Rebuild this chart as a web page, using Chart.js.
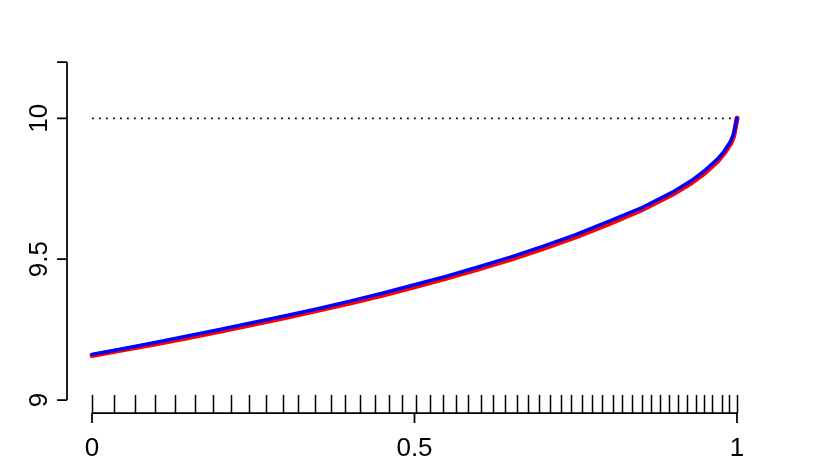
<!DOCTYPE html>
<html>
<head>
<meta charset="utf-8">
<script src="https://cdn.jsdelivr.net/npm/chart.js@4/dist/chart.umd.min.js"></script>
<style>
  html, body { margin: 0; padding: 0; background: #fff; }
  canvas { display: block; }
</style>
</head>
<body>
<canvas id="graph" width="830" height="464"></canvas>
<script>
var xs = [0, 0.05, 0.1, 0.15, 0.2, 0.25, 0.3, 0.35, 0.4, 0.45, 0.5, 0.55, 0.6, 0.65,
          0.7, 0.75, 0.8, 0.85, 0.9, 0.93, 0.95, 0.97, 0.98, 0.99, 0.995, 1];
var blueVals = [9.162, 9.183, 9.205, 9.228, 9.251, 9.275, 9.299, 9.324, 9.351, 9.379,
                9.409, 9.440, 9.473, 9.508, 9.546, 9.587, 9.633, 9.680, 9.738, 9.780,
                9.815, 9.856, 9.883, 9.918, 9.946, 10.0];
var redVals = [9.158, 9.179, 9.200, 9.222, 9.245, 9.269, 9.293, 9.318, 9.344, 9.372,
               9.402, 9.433, 9.466, 9.500, 9.538, 9.579, 9.624, 9.673, 9.730, 9.772,
               9.806, 9.848, 9.876, 9.910, 9.938, 10.0];

// rug ticks along the x axis
var rugX = [0, 0.034, 0.067, 0.098, 0.129, 0.159, 0.188, 0.216, 0.243, 0.270, 0.296,
            0.320, 0.346, 0.370, 0.393, 0.416, 0.438, 0.460, 0.481, 0.503, 0.524,
            0.544, 0.564, 0.583, 0.603, 0.622, 0.640, 0.659, 0.676, 0.693, 0.710,
            0.727, 0.743, 0.760, 0.775, 0.791, 0.807, 0.822, 0.837, 0.852, 0.867,
            0.881, 0.895, 0.909, 0.923, 0.937, 0.949, 0.962, 0.976, 0.988, 1.0];

var xTicks = [0, 0.5, 1];
var xTickLabels = ["0", "0.5", "1"];
var yTicks = [9, 9.5, 10, 10.2];
var yTickLabels = ["9", "9.5", "10", ""];
var refLevel = 10;

function pairs(xv, yv) {
    var out = [];
    for (var i = 0; i < xv.length; i++) out.push({x: xv[i], y: yv[i]});
    return out;
}

var FONT = "26px 'Liberation Sans', Arial, sans-serif";

// R-style axes drawn off the plot region
var rAxes = {
    id: "rAxes",
    afterDraw: function (chart) {
        var ctx = chart.ctx;
        var sx = chart.scales.x, sy = chart.scales.y;
        ctx.save();
        ctx.strokeStyle = "#000";
        ctx.fillStyle = "#000";
        ctx.lineWidth = 1.75;
        ctx.lineCap = "butt";

        // y axis
        var ax = 67;
        ctx.beginPath();
        ctx.moveTo(ax, sy.getPixelForValue(yTicks[0]));
        ctx.lineTo(ax, sy.getPixelForValue(yTicks[yTicks.length - 1]));
        for (var i = 0; i < yTicks.length; i++) {
            var py = sy.getPixelForValue(yTicks[i]);
            ctx.moveTo(ax, py);
            ctx.lineTo(ax - 10, py);
        }
        ctx.stroke();
        ctx.font = FONT;
        ctx.textAlign = "center";
        ctx.textBaseline = "middle";
        for (var i = 0; i < yTicks.length; i++) {
            if (!yTickLabels[i]) continue;
            var py = sy.getPixelForValue(yTicks[i]);
            ctx.save();
            ctx.translate(40, py);
            ctx.rotate(-Math.PI / 2);
            ctx.fillText(yTickLabels[i], 0, 0);
            ctx.restore();
        }

        // x axis
        var ay = 413;
        ctx.beginPath();
        ctx.moveTo(sx.getPixelForValue(xTicks[0]), ay);
        ctx.lineTo(sx.getPixelForValue(xTicks[xTicks.length - 1]), ay);
        for (var i = 0; i < xTicks.length; i++) {
            var px = sx.getPixelForValue(xTicks[i]);
            ctx.moveTo(px, ay);
            ctx.lineTo(px, ay + 10);
        }
        ctx.stroke();
        ctx.lineWidth = 1.5;
        ctx.beginPath();
        for (var i = 0; i < rugX.length; i++) {
            var px = Math.round(sx.getPixelForValue(rugX[i])) + 0.5;
            ctx.moveTo(px, ay);
            ctx.lineTo(px, ay - 18);
        }
        ctx.stroke();
        for (var i = 0; i < xTicks.length; i++) {
            ctx.fillText(xTickLabels[i], sx.getPixelForValue(xTicks[i]), 449);
        }
        ctx.restore();
    }
};

var ctx = document.getElementById("graph").getContext("2d");
new Chart(ctx, {
    type: "line",
    data: {
        datasets: [
            {
                data: pairs(xs, blueVals),
                borderColor: "#0000ff",
                borderWidth: 3.5,
                pointRadius: 0,
                borderCapStyle: "round",
                borderJoinStyle: "round",
                fill: false
            },
            {
                data: pairs(xs, redVals),
                borderColor: "#ff0000",
                borderWidth: 5,
                pointRadius: 0,
                borderCapStyle: "round",
                borderJoinStyle: "round",
                fill: false
            },
            {
                data: [{x: 0, y: refLevel}, {x: 1, y: refLevel}],
                borderColor: "#000",
                borderWidth: 1.75,
                borderDash: [1.75, 5.25],
                pointRadius: 0,
                fill: false
            }
        ]
    },
    options: {
        responsive: false,
        devicePixelRatio: 1,
        animation: false,
        clip: false,
        layout: { padding: { left: 92, right: 93, top: 62, bottom: 64 } },
        scales: {
            x: { type: "linear", min: 0, max: 1, display: false },
            y: { type: "linear", min: 9, max: 10.2, display: false }
        },
        plugins: { legend: { display: false }, tooltip: { enabled: false } }
    },
    plugins: [rAxes]
});
</script>
</body>
</html>
